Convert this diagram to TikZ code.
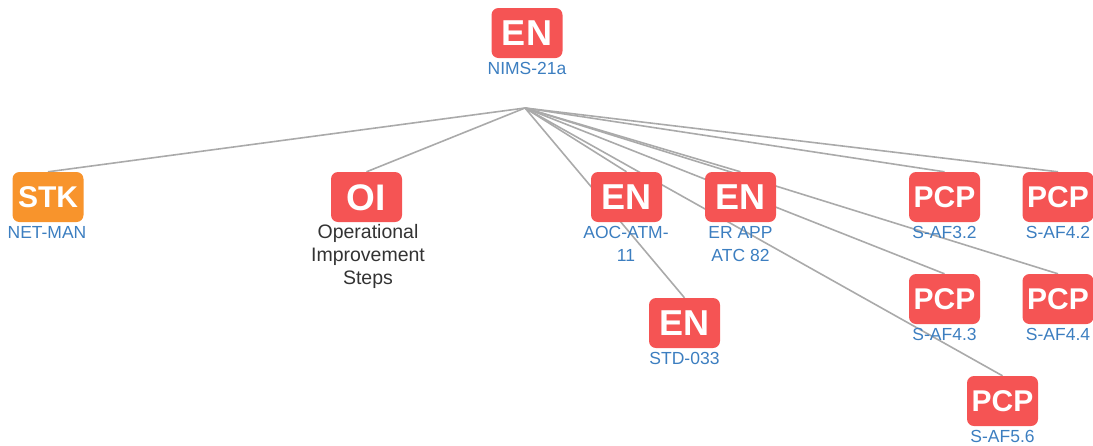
\documentclass[tikz,border=0pt]{standalone}
\usepackage{fontspec}
\setmainfont{Liberation Sans}
\usetikzlibrary{backgrounds}
\definecolor{enred}{HTML}{F55454}
\definecolor{stkorange}{HTML}{F8942C}
\definecolor{labblue}{HTML}{3C7EC0}
\definecolor{linegray}{HTML}{AAAAAA}
\definecolor{darktext}{HTML}{333333}
\begin{document}
\begin{tikzpicture}[x=1pt,y=-1pt,
  box/.style={rounded corners=7pt, minimum width=71pt, minimum height=50pt, inner sep=0pt, text=white},
  bigtxt/.style={font=\fontsize{36}{36}\selectfont\bfseries, text height=25.8pt, text depth=0pt},
  midtxt/.style={font=\fontsize{30}{30}\selectfont\bfseries, text height=21.5pt, text depth=0pt},
  oitxt/.style={font=\fontsize{37}{37}\selectfont\bfseries, text height=26.5pt, text depth=0pt},
  lab/.style={text=labblue, font=\fontsize{17.5}{23}\selectfont, align=center, anchor=base, inner sep=0pt},
  oilab/.style={text=darktext, font=\fontsize{19.5}{23}\selectfont, align=center, anchor=base, inner sep=0pt},
  link/.style={draw=linegray, line width=1.6pt}]
\useasboundingbox (0,0) rectangle (1093,445);

% boxes
\node[box, fill=enred, bigtxt] (root) at (527,33) {EN};
\node[box, fill=stkorange, midtxt] (stk) at (48,197) {STK};
\node[box, fill=enred, oitxt] (oi) at (366.5,197) {OI};
\node[box, fill=enred, bigtxt] (aoc) at (626.5,197) {EN};
\node[box, fill=enred, bigtxt] (erapp) at (740.5,197) {EN};
\node[box, fill=enred, bigtxt] (std) at (684.5,323) {EN};
\node[box, fill=enred, midtxt] (saf32) at (944.5,197) {PCP};
\node[box, fill=enred, midtxt] (saf42) at (1058,197) {PCP};
\node[box, fill=enred, midtxt] (saf43) at (944.5,299) {PCP};
\node[box, fill=enred, midtxt] (saf44) at (1058,299) {PCP};
\node[box, fill=enred, midtxt] (saf56) at (1002.5,401) {PCP};

% labels (base = baseline of last line)
\node[lab] (lroot) at (527,74) {NIMS-21a};
\node[lab] (lstk) at (47,238) {NET-MAN};
\node[oilab] (loi) at (368,284) {Operational\\Improvement\\Steps};
\node[lab] (laoc) at (626,261) {AOC-ATM-\\11};
\node[lab] (lerapp) at (740.5,261) {ER APP\\ATC 82};
\node[lab] (lstd) at (684.5,364) {STD-033};
\node[lab] (lsaf32) at (944.5,238) {S-AF3.2};
\node[lab] (lsaf42) at (1058,238) {S-AF4.2};
\node[lab] (lsaf43) at (944.5,340) {S-AF4.3};
\node[lab] (lsaf44) at (1058,340) {S-AF4.4};
\node[lab] (lsaf56) at (1002.5,442) {S-AF5.6};

% connectors
\coordinate (hub) at (525,108);
\begin{scope}[on background layer]
\foreach \t in {stk,oi,aoc,erapp,std,saf32,saf42,saf43,saf44,saf56}
  \draw[link] (hub) -- (\t.north);
\end{scope}
\end{tikzpicture}
\end{document}
